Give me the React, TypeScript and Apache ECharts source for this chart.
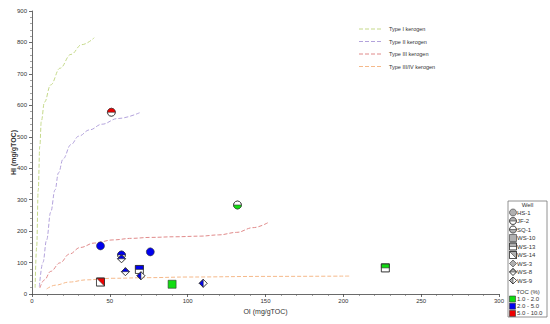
import React, { useEffect, useRef } from 'react';
import * as echarts from 'echarts';

// Kerogen type reference curves [OI, HI]
const typeI = [[2, 20], [3, 150], [4, 330], [5, 470], [6, 550], [8, 610], [12, 665], [18, 718], [25, 762], [32, 793], [40, 815]];
const typeII = [[4.7, 23], [7, 100], [9.4, 172], [12, 260], [14.8, 331], [17, 385], [20, 430], [25, 475], [30, 502], [37, 522], [45, 540], [55, 558], [69.4, 577]];
const typeIII = [[5, 19], [8, 45], [12, 72], [18, 99], [24, 127], [31, 148], [40, 162], [52, 172], [64, 177], [76, 180], [92, 182], [108, 184], [120, 188], [131.5, 196], [142, 211], [152, 228]];
const typeIIIIV = [[9.4, 16], [15, 28], [24, 38], [35, 45], [52, 50], [75, 52], [100, 54], [150, 56], [204, 57]];

const curveNames = ['Type I kerogen', 'Type II kerogen', 'Type III kerogen', 'Type III/IV kerogen'];
const curveColors = ['#c5d98a', '#b3a3dc', '#e08a8a', '#f5b98a'];

// Samples
const wellNames = ['HS-1', 'JF-2', 'SQ-1', 'WS-10', 'WS-13', 'WS-14', 'WS-3', 'WS-8', 'WS-9'];
const tocClasses = ['1.0 - 2.0', '2.0 - 5.0', '5.0 - 10.0'];
const tocColors = ['#11dd11', '#0000ee', '#ee0000'];

const sampleOI = [44, 76, 57.5, 57.5, 60, 69, 70, 44, 90, 110, 51, 132, 227];
const sampleHI = [153, 134, 124, 112, 71, 78, 58, 38, 31, 34, 578, 283, 83];
const sampleWell = ['HS-1', 'HS-1', 'JF-2', 'WS-8', 'WS-8', 'WS-13', 'WS-9', 'WS-14', 'WS-10', 'WS-9', 'JF-2', 'SQ-1', 'WS-13'];
const sampleTOC = [1, 1, 1, 1, 1, 1, 1, 2, 0, 1, 2, 0, 0];

const xTicks = [0, 300, 50];
const yTicks = [0, 900, 100];

const STROKE = '#333';
const LW = 0.6;

function arcPts(cx: number, cy: number, r: number, a0: number, a1: number) {
  const pts: number[][] = [];
  const n = 18;
  for (let i = 0; i <= n; i++) {
    const a = a0 + ((a1 - a0) * i) / n;
    pts.push([cx + r * Math.cos(a), cy + r * Math.sin(a)]);
  }
  return pts;
}

function markerEls(kind: string, cx: number, cy: number, s: number, color: string): any[] {
  const r = s / 2;
  const els: any[] = [];
  const bgCircle = { type: 'circle', shape: { cx, cy, r }, style: { fill: '#fff', stroke: STROKE, lineWidth: LW } };
  const olCircle = { type: 'circle', shape: { cx, cy, r }, style: { fill: 'none', stroke: STROKE, lineWidth: LW } };
  const sq = (fill: string) => ({ type: 'rect', shape: { x: cx - r, y: cy - r, width: 2 * r, height: 2 * r }, style: { fill, stroke: STROKE, lineWidth: LW } });
  const dm = (fill: string) => ({ type: 'polygon', shape: { points: [[cx, cy - r], [cx + r, cy], [cx, cy + r], [cx - r, cy]] }, style: { fill, stroke: STROKE, lineWidth: LW } });
  switch (kind) {
    case 'HS-1':
      els.push({ type: 'circle', shape: { cx, cy, r }, style: { fill: color, stroke: STROKE, lineWidth: LW } });
      break;
    case 'JF-2':
      els.push(bgCircle);
      els.push({ type: 'polygon', shape: { points: arcPts(cx, cy, r, Math.PI, 2 * Math.PI) }, style: { fill: color } });
      els.push(olCircle);
      els.push({ type: 'line', shape: { x1: cx - r, y1: cy, x2: cx + r, y2: cy }, style: { stroke: STROKE, lineWidth: LW } });
      break;
    case 'SQ-1':
      els.push(bgCircle);
      els.push({ type: 'polygon', shape: { points: arcPts(cx, cy, r, 0, Math.PI) }, style: { fill: color } });
      els.push(olCircle);
      els.push({ type: 'line', shape: { x1: cx - r, y1: cy, x2: cx + r, y2: cy }, style: { stroke: STROKE, lineWidth: LW } });
      break;
    case 'WS-10':
      els.push(sq(color));
      break;
    case 'WS-13':
      els.push(sq('#fff'));
      els.push({ type: 'rect', shape: { x: cx - r, y: cy - r, width: 2 * r, height: r }, style: { fill: color, stroke: STROKE, lineWidth: LW } });
      els.push(sq('none'));
      break;
    case 'WS-14':
      els.push(sq('#fff'));
      els.push({ type: 'polygon', shape: { points: [[cx - r, cy - r], [cx + r, cy - r], [cx + r, cy + r]] }, style: { fill: color, stroke: STROKE, lineWidth: LW } });
      els.push(sq('none'));
      break;
    case 'WS-3':
      els.push(dm(color));
      break;
    case 'WS-8':
      els.push(dm('#fff'));
      els.push({ type: 'polygon', shape: { points: [[cx - r, cy], [cx, cy - r], [cx + r, cy]] }, style: { fill: color, stroke: STROKE, lineWidth: LW } });
      els.push(dm('none'));
      break;
    case 'WS-9':
      els.push(dm('#fff'));
      els.push({ type: 'polygon', shape: { points: [[cx, cy - r], [cx - r, cy], [cx, cy + r]] }, style: { fill: color, stroke: STROKE, lineWidth: LW } });
      els.push(dm('none'));
      break;
  }
  return els;
}

const FONT = 'Liberation Sans, Arial, sans-serif';

export default function App() {
  const ref = useRef<HTMLDivElement>(null);
  useEffect(() => {
    if (!ref.current) return;
    const chart = echarts.init(ref.current, null, { renderer: 'svg' });

    const curves = [typeI, typeII, typeIII, typeIIIIV];
    const lineSeries = curves.map((d, i) => ({
      type: 'line',
      name: curveNames[i],
      data: d,
      showSymbol: false,
      smooth: 0.4,
      smoothMonotone: 'x',
      lineStyle: { color: curveColors[i], width: 1, type: [4, 2] },
      silent: true,
      z: 2,
    }));

    const sampleData = sampleOI.map((x, i) => [x, sampleHI[i], wellNames.indexOf(sampleWell[i]), sampleTOC[i]]);

    const graphics: any[] = [];
    // Top legend for kerogen curves
    const legTop = [29, 41.5, 54, 66.5];
    curveNames.forEach((n, i) => {
      graphics.push({ type: 'line', shape: { x1: 359, y1: legTop[i], x2: 383, y2: legTop[i] }, style: { stroke: curveColors[i], lineWidth: 1, lineDash: [4, 2] }, silent: true });
      graphics.push({ type: 'text', x: 389, y: legTop[i], style: { text: n, fill: '#333', font: `5.5px ${FONT}`, textVerticalAlign: 'middle', verticalAlign: 'middle' }, silent: true });
    });
    // Right legend box
    graphics.push({ type: 'rect', shape: { x: 508, y: 201, width: 39, height: 116 }, style: { fill: '#fff', stroke: '#777', lineWidth: 0.8 }, silent: true });
    graphics.push({ type: 'text', x: 527.5, y: 205, style: { text: 'Well', fill: '#333', font: `6px ${FONT}`, align: 'center', textAlign: 'center', verticalAlign: 'middle', textVerticalAlign: 'middle' }, silent: true });
    wellNames.forEach((w, i) => {
      const y = 212.5 + i * 8.5;
      graphics.push({ type: 'group', children: markerEls(w, 513, y, 7, '#b0b0b0'), silent: true });
      graphics.push({ type: 'text', x: 517, y, style: { text: w, fill: '#333', font: `6px ${FONT}`, verticalAlign: 'middle', textVerticalAlign: 'middle' }, silent: true });
    });
    graphics.push({ type: 'text', x: 528, y: 291.5, style: { text: 'TOC (%)', fill: '#333', font: `6px ${FONT}`, align: 'center', textAlign: 'center', verticalAlign: 'middle', textVerticalAlign: 'middle' }, silent: true });
    tocClasses.forEach((t, i) => {
      const y = 299 + i * 7.2;
      graphics.push({ type: 'rect', shape: { x: 509.5, y: y - 3, width: 6, height: 6 }, style: { fill: tocColors[i], stroke: STROKE, lineWidth: 0.6 }, silent: true });
      graphics.push({ type: 'text', x: 517, y, style: { text: t, fill: '#333', font: `6px ${FONT}`, verticalAlign: 'middle', textVerticalAlign: 'middle' }, silent: true });
    });

    const axisCommon = {
      axisLine: { show: true, lineStyle: { color: '#444', width: 0.8 } },
      axisTick: { show: true, inside: false, length: 3, lineStyle: { color: '#444', width: 0.8 } },
      minorTick: { show: true, splitNumber: 5, length: 2, lineStyle: { color: '#666', width: 0.6 } },
      splitLine: { show: false },
      nameMoveOverlap: false,
      nameTextStyle: { fontSize: 7, fontWeight: 'bold', color: '#333', fontFamily: FONT },
    };

    chart.setOption({
      animation: false,
      backgroundColor: '#fff',
      grid: { left: 32, right: 51, top: 11, bottom: 30, containLabel: false, outerBoundsMode: 'none' },
      xAxis: {
        type: 'value',
        min: xTicks[0],
        max: xTicks[1],
        interval: xTicks[2],
        name: 'OI (mg/gTOC)',
        nameLocation: 'middle',
        nameGap: 13.5,
        ...axisCommon,
        nameTextStyle: { fontSize: 7, fontWeight: 'normal', color: '#333', fontFamily: FONT },
        axisLabel: { fontSize: 6, color: '#333', margin: 4, fontFamily: FONT },
      },
      yAxis: {
        type: 'value',
        min: yTicks[0],
        max: yTicks[1],
        interval: yTicks[2],
        name: 'HI (mg/gTOC)',
        nameLocation: 'middle',
        nameGap: 15,
        ...axisCommon,
        axisLabel: { fontSize: 6, color: '#333', margin: 5, fontFamily: FONT },
      },
      series: [
        ...lineSeries,
        {
          type: 'custom',
          name: 'samples',
          data: sampleData,
          encode: { x: 0, y: 1 },
          z: 5,
          renderItem: (params: any, api: any) => {
            const p = api.coord([api.value(0), api.value(1)]);
            const w = wellNames[api.value(2)];
            const c = tocColors[api.value(3)];
            return { type: 'group', children: markerEls(w, p[0], p[1], 8, c) };
          },
        },
      ],
      graphic: graphics,
    });
    return () => chart.dispose();
  }, []);
  return <div ref={ref} style={{ width: 550, height: 324, position: 'absolute', left: 0, top: 0 }} />;
}
